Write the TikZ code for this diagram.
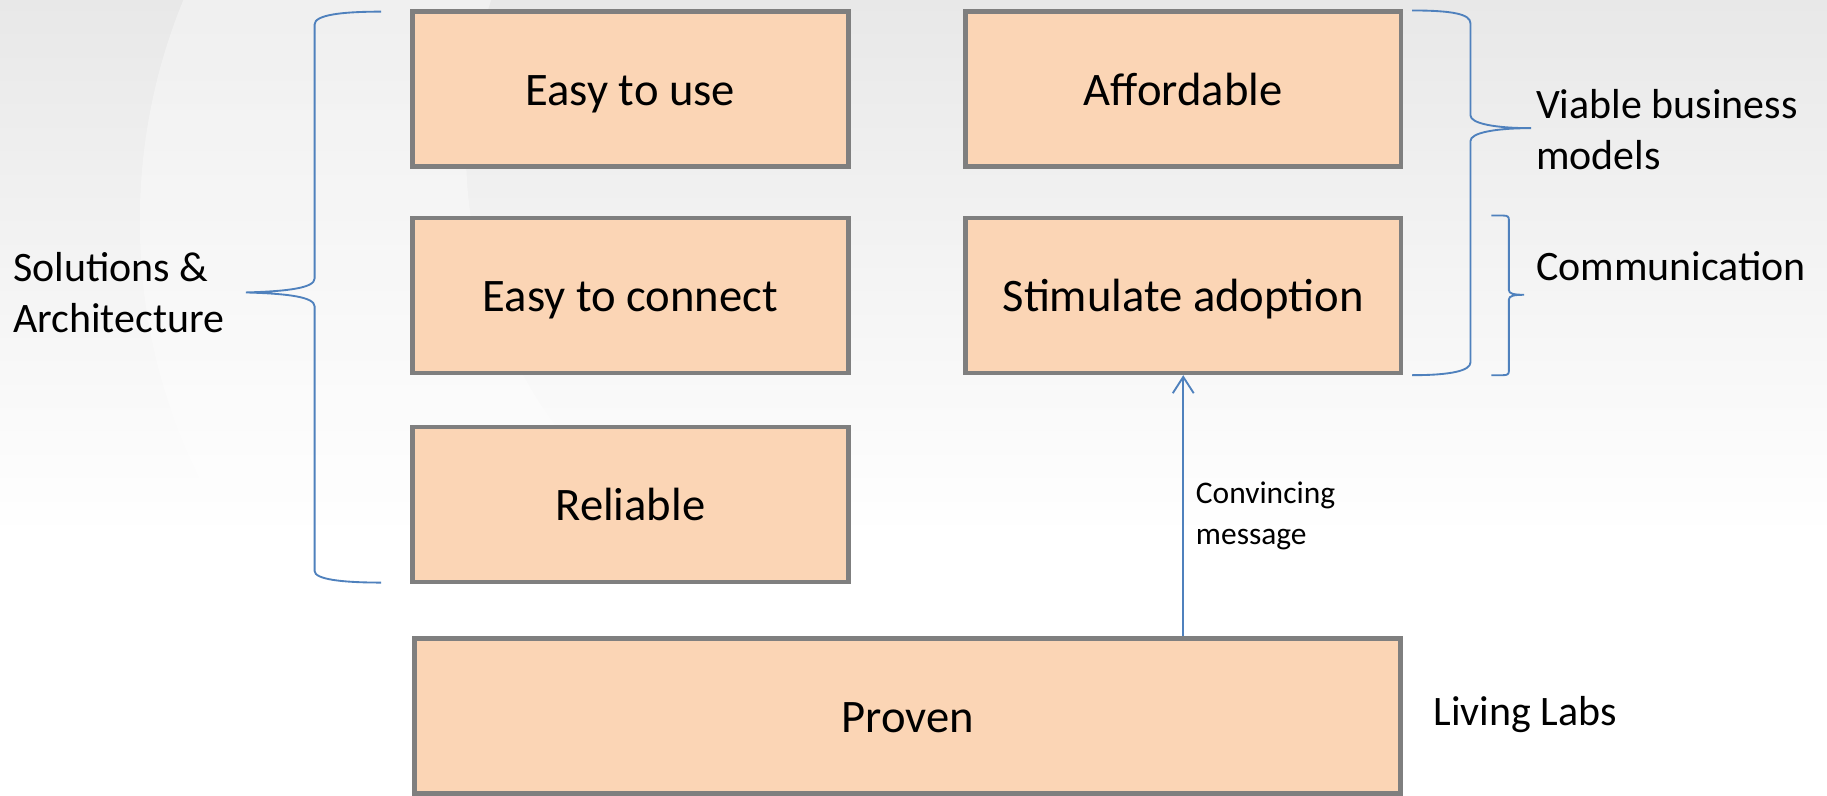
\documentclass[tikz,border=0pt]{standalone}
\usepackage{fontspec}
\setmainfont{Carlito}
\usetikzlibrary{arrows.meta}
\definecolor{boxfill}{HTML}{FBD5B5}
\definecolor{boxline}{HTML}{7F7F7F}
\definecolor{bracecol}{HTML}{4F81BD}
\begin{document}
\begin{tikzpicture}[x=0.5pt,y=-0.5pt,
  box/.style={draw=boxline, line width=2pt, fill=boxfill, inner sep=0pt,
    minimum width=187pt, minimum height=66.5pt, text height=18pt, text depth=4pt,
    font=\fontsize{20}{24}\selectfont},
  sidelabel/.style={font=\fontsize{18}{22}\selectfont, align=left, anchor=west, inner sep=0pt},
  smalllabel/.style={font=\fontsize{13.5}{17.5}\selectfont, align=left, anchor=west, inner sep=0pt},
  bracepath/.style={draw=bracecol, line width=0.8pt},
  link/.style={draw=bracecol, line width=0.8pt, -{Straight Barb[length=7pt,width=9pt]}}
]
\useasboundingbox (0,0) rectangle (1568,683);
% background
\shade[top color=black!9, bottom color=white] (0,0) rectangle (1568,460);
\fill[white] (0,460) rectangle (1568,683);
\begin{scope}
  \clip (0,0) rectangle (830,520);
  \fill[white, opacity=0.35, even odd rule] (620,190) circle[radius=500] (800,130) circle[radius=400];
\end{scope}

% boxes
\node[box] (use) at (541,76.5) {Easy to use};
\node[box] (afford) at (1015.5,76.5) {Affordable};
\node[box] (connect) at (541,253.5) {Easy to connect};
\node[box] (stim) at (1015.5,253.5) {Stimulate adoption};
\node[box] (reliable) at (541,433) {Reliable};
\node[box, minimum width=423pt] (proven) at (779,614.5) {Proven};

% labels
\node[sidelabel] (sol) at (11,251) {Solutions \&\\Architecture};
\node[sidelabel] (viable) at (1318,111) {Viable business\\models};
\node[sidelabel] (comm) at (1318,228) {Communication};
\node[sidelabel] (living) at (1230,613) {Living Labs};
\node[smalllabel] (conv) at (1026,443) {Convincing\\message};

% arrow
\draw[link] (proven.north -| stim.south) -- (stim.south);

% left brace
\path[bracepath] (327,10) .. controls (292,10) and (270,13) .. (270,21)
  -- (270,239) .. controls (270,247) and (248,250) .. (211,251)
  .. controls (248,252) and (270,255) .. (270,263)
  -- (270,490) .. controls (270,497) and (292,500) .. (327,500);
% right big brace
\path[bracepath] (1212,9) .. controls (1246,9) and (1262,12) .. (1262,20)
  -- (1262,99) .. controls (1262,106) and (1283,110) .. (1314,110)
  .. controls (1283,110) and (1262,114) .. (1262,121)
  -- (1262,311) .. controls (1262,318) and (1246,322) .. (1212,322);
% small brace
\path[bracepath] (1280,185) -- (1290,185) .. controls (1294,185) and (1295,186) .. (1295,189)
  -- (1295,249) .. controls (1295,252) and (1299,253) .. (1308,253)
  .. controls (1299,253) and (1295,254) .. (1295,257)
  -- (1295,318) .. controls (1295,321) and (1294,322) .. (1290,322) -- (1280,322);
\end{tikzpicture}
\end{document}
